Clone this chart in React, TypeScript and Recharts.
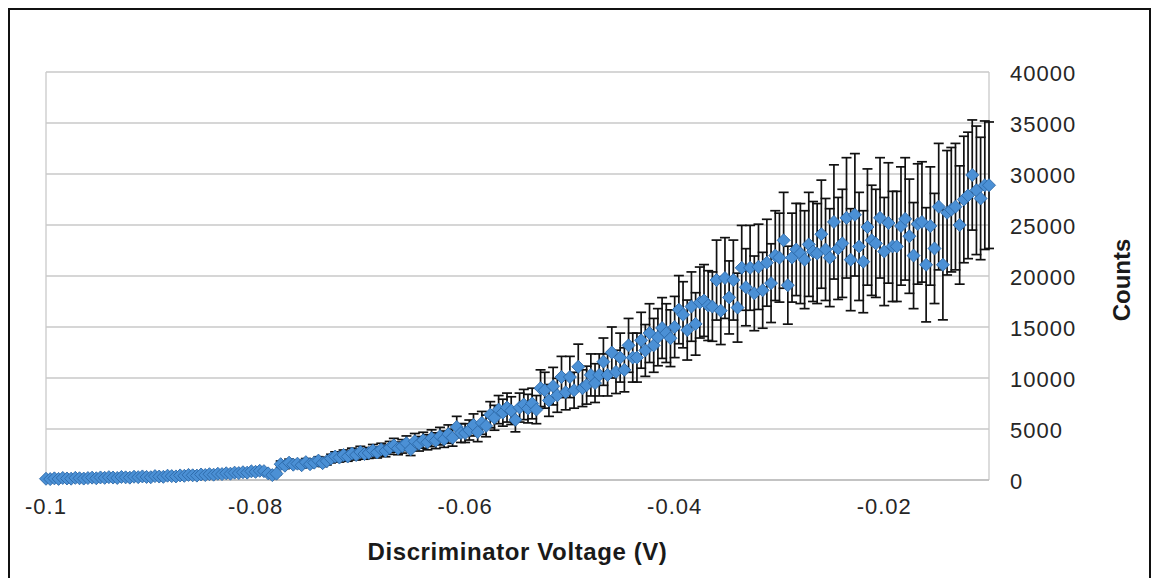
import React from 'react';
import { ScatterChart, Scatter, XAxis, YAxis, CartesianGrid, ErrorBar, ReferenceLine } from 'recharts';

// Sampling of the discriminator voltage scan
const V_START = -0.1;
const V_STEP = 0.0004;

const counts: number[] = [
  120, 90, 160, 110, 200, 150, 130, 210, 170, 140,
  190, 230, 170, 250, 210, 280, 240, 200, 300, 260,
  230, 320, 280, 350, 300, 270, 380, 340, 310, 420,
  380, 350, 450, 410, 500, 460, 430, 540, 490, 570,
  520, 610, 580, 660, 620, 720, 680, 760, 720, 850,
  800, 900, 870, 650, 480, 620, 1550, 1400, 1700, 1500,
  1600, 1450, 1750, 1550, 1700, 1900, 1650, 1850, 2100, 2300,
  2200, 2450, 2300, 2600, 2450, 2750, 2550, 2650, 2900, 2700,
  3000, 2850, 3150, 3400, 3100, 3300, 3600, 3000, 3800, 3550,
  3900, 3700, 4100, 3850, 4300, 4000, 4500, 4150, 5200, 4600,
  4600, 4900, 5400, 4700, 5600, 5300, 6400, 6100, 6900, 6600,
  7100, 6800, 5900, 7100, 7400, 7000, 7500, 6900, 9000, 8800,
  7800, 9200, 8300, 10100, 8600, 10100, 8800, 11100, 9000, 9300,
  10300, 9500, 10300, 11600, 10300, 12500, 10600, 12000, 10800, 13200,
  12000, 12000, 13700, 12700, 14400, 13200, 14000, 14900, 14400, 13900,
  15000, 16700, 16200, 14700, 17000, 15300, 17400, 17600, 17100, 17000,
  19600, 16600, 19800, 17900, 19600, 16900, 20800, 18900, 20800, 18300,
  20900, 18600, 21300, 19300, 22000, 21800, 23500, 19100, 21800, 22600,
  22200, 21600, 23100, 22400, 22200, 24100, 22600, 21800, 25300, 22700,
  23200, 25700, 21600, 26000, 22900, 21400, 24800, 23500, 23200, 25700,
  22400, 25200, 22900, 22900, 24900, 25600, 23900, 22000, 25100, 25300,
  21100, 24900, 22700, 26800, 21100, 26200, 26500, 26800, 25000, 27500,
  27900, 29900, 28400, 27600, 28900, 28900,
];

const errors: number[] = [
  25, 20, 30, 25, 40, 30, 25, 40, 35, 30,
  40, 45, 35, 50, 40, 55, 50, 40, 60, 50,
  45, 65, 55, 70, 60, 55, 75, 70, 60, 85,
  75, 70, 90, 80, 100, 90, 85, 110, 100, 115,
  105, 120, 115, 130, 125, 145, 135, 150, 145, 170,
  160, 180, 175, 130, 95, 125, 310, 280, 340, 300,
  320, 290, 350, 310, 340, 380, 330, 370, 420, 460,
  440, 490, 460, 520, 490, 550, 510, 530, 580, 540,
  600, 570, 630, 680, 620, 660, 720, 600, 760, 710,
  780, 740, 820, 770, 860, 800, 900, 830, 1040, 920,
  920, 980, 1080, 940, 1120, 1060, 1280, 1220, 1380, 1320,
  1420, 1360, 1180, 1420, 1480, 1400, 1500, 1380, 1800, 1760,
  1560, 1840, 1660, 2020, 1720, 2020, 1760, 2220, 1800, 1860,
  2060, 1900, 2060, 2320, 2060, 2500, 2120, 2400, 2160, 2640,
  2400, 2400, 2740, 2540, 2880, 2640, 2800, 2980, 2880, 2780,
  3000, 3340, 3240, 2940, 3400, 3060, 3480, 3520, 3420, 3400,
  3920, 3320, 3960, 3580, 3920, 3380, 4160, 3780, 4160, 3660,
  4180, 3720, 4260, 3860, 4400, 4360, 4700, 3820, 4360, 4520,
  4900, 4800, 5100, 4900, 4900, 5300, 5000, 4800, 5600, 5000,
  5300, 5900, 5000, 6000, 5300, 5000, 5700, 5400, 5300, 5900,
  5300, 5900, 5400, 5400, 5800, 6000, 5600, 5200, 5900, 5900,
  5600, 5800, 5400, 6200, 5400, 6100, 6100, 6200, 5800, 6200,
  6200, 5400, 6300, 6000, 6300, 6200,
];

const xTicks = [-0.1, -0.08, -0.06, -0.04, -0.02];
const yTicks = [0, 5000, 10000, 15000, 20000, 25000, 30000, 35000, 40000];
const xTitle = 'Discriminator Voltage (V)';
const yTitle = 'Counts';

const data = counts.map((c, i) => ({
  v: +(V_START + i * V_STEP).toFixed(4),
  c,
  e: errors[i],
}));

const FONT = '"Liberation Sans", Arial, sans-serif';

const Diamond = (p: any) => {
  const { cx, cy } = p;
  if (cx == null || cy == null) return <g />;
  const r = 6.5;
  return (
    <polygon
      points={`${cx},${cy - r} ${cx + r},${cy} ${cx},${cy + r} ${cx - r},${cy}`}
      fill="#4B90D5"
      stroke="#2D69A8"
      strokeWidth={0.9}
    />
  );
};

const Empty = () => <g />;

const XTitle = (props: any) => {
  const vb = props.viewBox || {};
  return (
    <text
      x={vb.x + vb.width / 2}
      y={vb.y + 80}
      textAnchor="middle"
      fontFamily={FONT}
      fontWeight="bold"
      fontSize={24}
      letterSpacing={0.6}
      fill="#1a1a1a"
    >
      {xTitle}
    </text>
  );
};

const YTitle = (props: any) => {
  const vb = props.viewBox || {};
  const x = vb.x + 132;
  const y = vb.y + vb.height / 2 + 4;
  return (
    <text
      x={x}
      y={y}
      transform={`rotate(-90, ${x}, ${y})`}
      textAnchor="middle"
      dominantBaseline="central"
      fontFamily={FONT}
      fontWeight="bold"
      fontSize={24}
      fill="#1a1a1a"
    >
      {yTitle}
    </text>
  );
};

export default function App() {
  return (
    <div style={{ position: 'fixed', left: 0, top: 0, width: 1157, height: 578, overflow: 'hidden', background: '#fff' }}>
      <div
        style={{
          position: 'absolute',
          left: 8,
          top: 8,
          width: 1143,
          height: 620,
          border: '2px solid #111',
          boxSizing: 'border-box',
        }}
      />
      <div style={{ position: 'absolute', left: 0, top: 0 }}>
        <ScatterChart width={1157} height={578} margin={{ top: 72, left: 46, right: 68, bottom: 38 }}>
          <CartesianGrid vertical={false} stroke="#c9c9c9" strokeWidth={1.3} />
          <ReferenceLine x={-0.1} stroke="#c9c9c9" strokeWidth={1.3} />
          <ReferenceLine x={-0.01} stroke="#c9c9c9" strokeWidth={1.3} />
          <XAxis
            type="number"
            dataKey="v"
            domain={[-0.1, -0.01]}
            ticks={xTicks}
            interval={0}
            tickLine={false}
            axisLine={{ stroke: '#bdbdbd', strokeWidth: 1.3 }}
            tickSize={0}
            tickMargin={18}
            height={60}
            tick={{ fontSize: 22, fill: '#262626', fontFamily: FONT, letterSpacing: 1 }}
            tickFormatter={(v: number) => String(v)}
            label={{ content: XTitle }}
          />
          <YAxis
            type="number"
            dataKey="c"
            orientation="right"
            domain={[0, 40000]}
            ticks={yTicks}
            interval={0}
            tickLine={false}
            axisLine={false}
            tickSize={0}
            tickMargin={21}
            width={100}
            tick={{ fontSize: 22, fill: '#262626', fontFamily: FONT, letterSpacing: 1, dy: 1 }}
            label={{ content: YTitle }}
          />
          <Scatter data={data} shape={Empty} isAnimationActive={false}>
            <ErrorBar dataKey="e" direction="y" width={5} stroke="#111" strokeWidth={1.7} isAnimationActive={false} />
          </Scatter>
          <Scatter data={data} shape={Diamond} isAnimationActive={false} />
        </ScatterChart>
      </div>
    </div>
  );
}
